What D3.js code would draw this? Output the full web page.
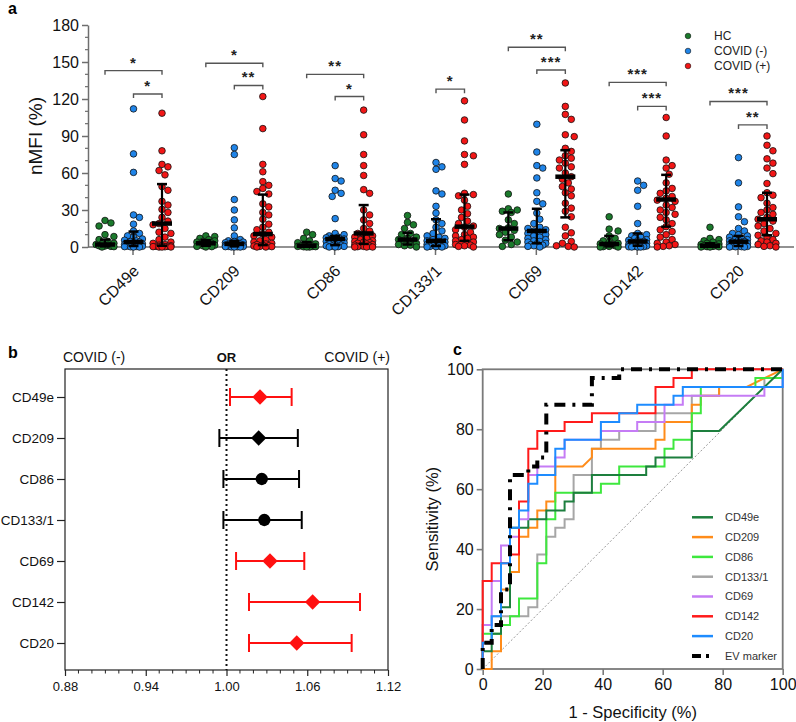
<!DOCTYPE html>
<html><head><meta charset="utf-8">
<script src="https://cdn.jsdelivr.net/npm/d3@7"></script>
<style>body{margin:0;background:#fff}svg{font-family:Arial,"Liberation Sans",sans-serif}</style>
</head><body><svg id="chart" width="796" height="722"></svg>
<script>
// ---------------- DATA ----------------
const markers = ["CD49e","CD209","CD86","CD133/1","CD69","CD142","CD20"];
const groups = ["HC","COVID (-)","COVID (+)"];
const yTicksA = [0,30,60,90,120,150,180];

const hcValues = [
  [21.5,19.5,17,10,8.5,6,4.5,3,2.5,2,1.5,1,0.8,0.5,0.3,0],
  [9,8.5,7,6,5,4.5,4,3,3,2.5,2,1.5,1,0.5,0.3,0],
  [12,10,7,5,3.5,2.5,2,1.5,1,1,0.5,0.5,0.3,0.2,0,0],
  [25.5,20,18,15,11,10,8,7,6,5,4,3,2,1.5,1,0],
  [43,31,30,29,28,22,19,15.5,15,13.5,12,10,8,5.5,4,2,0.5],
  [24.5,14.5,13,9,7,5,4,3,2.5,2,1.5,1,0.5,0.3,0,0],
  [16,7,6,5,4,3,2.5,2,1.5,1,1,0.5,0.3,0.2,0,0]
];
const negValues = [
  [112,75.5,60.5,26,24,18.5,13,11,9,8,6.5,5.5,5,4.5,4,3.5,3,2.5,2,2,1.5,1.2,1,0.8,0.6,0.5,0.3,0.2,0,0],
  [80.5,75,38.5,30,22,15.5,9,6,5,4.5,4,3.5,3,3,2.5,2,2,1.5,1.5,1,1,0.8,0.6,0.5,0.4,0.3,0.2,0.1,0,0],
  [66,55.5,53.5,46,43.5,41,23,11,10,9,8,7.5,7,6.5,6,5.5,5,4.5,4,3.5,3,2.5,2,1.5,1,0.8,0.5,0.3,0,0],
  [68.5,65,63,45.5,43,33,27.5,22,19,16,13,11,9,8,7,6,5,4.5,4,3.5,3,2.5,2,1.5,1,0.8,0.5,0.3,0,0],
  [99.5,77,66,64,56,44,37,35,27.5,22.5,19,16,15,14,13,12,11,10,9,8,7,6,5,4.5,4,3,2.5,2,1.5,1,0.5,0],
  [53.5,50,46,33,19,11,10,9,8,7,6,5.5,5,4.5,4,3.5,3,2.5,2,2,1.5,1,1,0.8,0.5,0.3,0.2,0,0,0],
  [72.5,52,32.5,24.5,20.5,15,13,11,10,9,8,7,6.5,6,5.5,5,4.5,4,3.5,3,2.5,2,1.5,1,0.8,0.5,0.3,0.2,0,0]
];
const posValues = [
  [108.5,78,67,65,62,58.5,49,46,37,34,30.5,28,24,21,19,18,15,12,11,8,6,4,3,2,1.5,1,1,0.5,0.5,0.3,0.2,0,0,0],
  [122,96,67,61,53,50,47.5,45,43,35,32.5,28,26,22.5,18.5,16,14,12,10.5,9,8,6,5,4,3,2.5,2,1.5,1,0.8,0.5,0.3,0,0],
  [111,91,75,66,58,46.5,43.5,30,26,22,19,15,13,11,10,9,8,7,6,5,4.5,4,3.5,3,2.5,2,1.5,1,0.8,0.5,0.3,0,0,0],
  [118.5,103,86,75,74,67,43.5,42.5,41.5,38,33,30,27,24,21,19,17,16,14,12,10,9,8,7,6,5,4,3,2.5,2,1.5,1,0.5,0],
  [133,114,107.5,103.5,91,89.5,80,77.5,74,72,70.5,68,65,64,60,57,55,52,49,47,44,41.5,35.5,31.5,29,24.5,16,11.5,9,4.5,3,1,0.5,0],
  [105,90,70.5,66,64,59,52,47.5,45.5,43.5,41,39.5,38,37,34,32,30,28,26.5,24,22,19,16.5,14,12.5,10,8,6,4,3,2,1,0.5,0],
  [90,82.5,78,71.5,68,64,59.5,51.5,44,42,40,35.5,32,30,28,26.5,24,22.5,21,19,17,15,13,11,9.5,8,6,5,4,3,2,1,0.5,0]
];
// median / IQR per marker: [HC, COVID(-), COVID(+)]
const medians = [[2,4,19],[3,2.5,10.5],[1,6.5,11],[6,5,16.5],[15,13,57],[2.4,4.5,38.5],[1,4.3,22.5]];
const q1s     = [[0.5,0.8,1],[1,0.5,1.5],[0.2,1.5,2.5],[2,0.8,5],[5.5,3,24],[0.5,1,16.5],[0.2,0.8,9.5]];
const q3s     = [[6,12.5,51],[5.5,5,42.5],[4,9,34],[11.5,22.5,42.5],[28,31,78.5],[9,11,58.5],[3,9,44]];
// significance brackets
const farLevels  = [143,149,140,null,162,133.5,118];
const farLabels  = ["*","*","**",null,"**","***","***"];
const nearLevels = [124,131,122,128,143.5,114,99];
const nearLabels = ["*","**","*","*","***","***","**"];

// panel b: odds ratios
const orMarkers = ["CD49e","CD209","CD86","CD133/1","CD69","CD142","CD20"];
const orValues = [1.0249,1.0239,1.0262,1.0281,1.0323,1.0640,1.0522];
const orLow    = [1.0026,0.9947,0.9977,0.9977,1.0071,1.0167,1.0167];
const orHigh   = [1.0484,1.0530,1.0539,1.0559,1.0578,1.0992,1.0930];
const orSignificant = [true,false,false,false,true,true,true];
const orShape = ["diamond","diamond","circle","circle","diamond","diamond","diamond"];
const orTicks = [0.88,0.94,1.00,1.06,1.12];

// panel c: ROC curves (1-specificity %, sensitivity %)
const rocNames = ["CD49e","CD209","CD86","CD133/1","CD69","CD142","CD20","EV marker"];
const rocCD49e = [[0,0],[0,5.9],[3,5.9],[3,11.8],[6.1,11.8],[6.1,20.6],[9.1,20.6],[9.1,47.1],[15.2,47.1],[15.2,50],[21.2,50],[21.2,52.9],[27.3,52.9],[27.3,55.9],[30.3,55.9],[30.3,58.8],[36.4,58.8],[36.4,64.7],[54.5,64.7],[54.5,67.6],[57.6,67.6],[57.6,70.6],[69.7,70.6],[69.7,79.4],[78.8,79.4],[100,100]];
const rocCD209 = [[0,0],[3,0],[3,5.9],[6.1,5.9],[6.1,26.5],[9.1,26.5],[9.1,32.4],[12.1,32.4],[12.1,44.1],[15.2,44.1],[15.2,47.1],[18.2,47.1],[18.2,52.9],[21.2,52.9],[21.2,55.9],[24.2,55.9],[24.2,67.6],[33.3,67.6],[36.4,70.6],[36.4,73.5],[57.6,73.5],[57.6,76.5],[60.6,76.5],[60.6,82.4],[69.7,82.4],[69.7,88.2],[72.7,88.2],[72.7,91.2],[78.8,91.2],[78.8,94.1],[88,94.1],[100,100]];
const rocCD86 = [[0,0],[0,11.8],[6.1,11.8],[6.1,14.7],[9.1,14.7],[9.1,17.6],[12.1,17.6],[12.1,23.5],[18.2,23.5],[18.2,35.3],[21.2,35.3],[21.2,50],[24.2,50],[24.2,58.8],[39.4,58.8],[39.4,61.8],[45.5,61.8],[45.5,67.6],[60.6,67.6],[60.6,73.5],[63.6,73.5],[63.6,76.5],[69.7,76.5],[69.7,85.3],[72.7,85.3],[72.7,94.1],[90.9,94.1],[90.9,97.1],[100,97.1],[100,100]];
const rocCD133 = [[0,0],[0,14.7],[3,14.7],[3,17.6],[15.2,17.6],[15.2,20.6],[18.2,20.6],[18.2,38.2],[21.2,38.2],[21.2,44.1],[24.2,44.1],[24.2,47.1],[27.3,47.1],[27.3,50],[30.3,50],[30.3,64.7],[36.4,64.7],[36.4,73.5],[39.4,73.5],[39.4,76.5],[45.5,76.5],[45.5,79.4],[57.6,79.4],[57.6,85.3],[69.7,85.3],[69.7,91.2],[78.8,91.2],[78.8,94.1],[93.9,94.1],[93.9,97.1],[100,97.1],[100,100]];
const rocCD69 = [[0,0],[0,14.7],[3,14.7],[3,29.4],[6.1,29.4],[6.1,41.2],[9.1,41.2],[9.1,44.1],[12.1,44.1],[12.1,50],[15.2,50],[15.2,64.7],[18.2,64.7],[18.2,67.6],[24.2,67.6],[24.2,70.6],[27.3,70.6],[27.3,76.5],[39.4,76.5],[39.4,79.4],[51.5,79.4],[51.5,82.4],[60.6,82.4],[60.6,88.2],[66.7,88.2],[66.7,91.2],[93.9,91.2],[93.9,94.1],[100,94.1],[100,100]];
const rocCD142 = [[0,0],[0,29.4],[3,29.4],[3,35.3],[9.1,35.3],[9.1,38.2],[12.1,38.2],[12.1,55.9],[15.2,55.9],[15.2,73.5],[18.2,73.5],[18.2,79.4],[27.3,79.4],[27.3,82.4],[36.4,82.4],[36.4,85.3],[57.6,85.3],[57.6,94.1],[63.6,94.1],[63.6,97.1],[69.7,97.1],[69.7,100],[100,100]];
const rocCD20 = [[0,0],[0,8.8],[3,8.8],[3,17.6],[6.1,17.6],[6.1,35.3],[9.1,35.3],[9.1,47.1],[12.1,47.1],[12.1,52.9],[15.2,52.9],[15.2,61.8],[18.2,61.8],[18.2,64.7],[24.2,64.7],[24.2,73.5],[27.3,73.5],[27.3,76.5],[39.4,76.5],[39.4,82.4],[45.5,82.4],[45.5,85.3],[51.5,85.3],[51.5,88.2],[63.6,88.2],[63.6,91.2],[66.7,91.2],[66.7,94.1],[100,94.1],[100,100]];
const rocEV = [[0,0],[0,8.8],[3,8.8],[3,14.7],[6.1,14.7],[6.1,26.5],[9.1,26.5],[9.1,64.7],[15.2,64.7],[15.2,67.6],[18.2,67.6],[18.2,70.6],[21.2,70.6],[21.2,88.2],[36.4,88.2],[36.4,97.1],[45.5,97.1],[45.5,100],[100,100]];
const rocTicks = [0,20,40,60,80,100];

// ---------------- DRAW ----------------
const svg = d3.select("#chart");
const FONT = 'Arial,"Liberation Sans",sans-serif';
const groupColors = ["#1b7a2c","#1f84e8","#f21616"];
const axisGray = "#6e6e6e";

// ===== Panel a =====
const xA = d3.scalePoint().domain(markers).range([133,738]);
const groupOffset = d3.scalePoint().domain(groups).range([-28,29]);
const yA = d3.scaleLinear().domain([0,180]).range([247,25]);
const gA = svg.append("g");

gA.append("text").attr("x",8).attr("y",14).attr("font-size",16).attr("font-weight","bold").text("a");

// y axis
const yAxisA = d3.axisLeft(yA).tickValues(yTicksA).tickSize(6).tickSizeOuter(0);
const yaG = gA.append("g").attr("transform","translate(88,0)").call(yAxisA);
yaG.selectAll("text").attr("font-size",16).attr("font-family",FONT).attr("fill","#111").attr("x",-9);
yaG.selectAll("line,path").attr("stroke",axisGray).attr("stroke-width",1.5);
const minorA = d3.range(0,181,10).filter(v=>v%30!==0);
gA.append("g").selectAll("line").data(minorA).join("line")
  .attr("x1",88).attr("x2",85).attr("y1",d=>yA(d)).attr("y2",d=>yA(d))
  .attr("stroke",axisGray).attr("stroke-width",1.2);
gA.append("text").attr("transform","translate(42,136) rotate(-90)").attr("text-anchor","middle")
  .attr("font-size",19).attr("fill","#111").text("nMFI (%)");

// x axis
gA.append("line").attr("x1",88).attr("x2",794).attr("y1",yA(0)).attr("y2",yA(0)).attr("stroke",axisGray).attr("stroke-width",1.6);
gA.append("g").selectAll("line").data(markers).join("line")
  .attr("x1",d=>xA(d)).attr("x2",d=>xA(d)).attr("y1",yA(0)).attr("y2",yA(0)+8)
  .attr("stroke",axisGray).attr("stroke-width",1.5);
gA.append("g").selectAll("text").data(markers).join("text")
  .attr("transform",d=>`translate(${xA(d)+7},${yA(0)+25}) rotate(-45)`)
  .attr("text-anchor","end").attr("font-size",16).attr("fill","#111").text(d=>d);

// beeswarm
function swarm(vals, cx, r, maxHalf){
  const pts = vals.map(v=>({v, y:yA(v)}));
  const placed=[];
  const cands=[0];
  for(let k=1;k*r*0.9<=maxHalf;k++){cands.push(k*r*0.9,-k*r*0.9);}
  pts.forEach(p=>{
    let chosen=null,best=-1,bestOff=0;
    for(const off of cands){
      let md=Infinity;
      for(const q of placed){const d=Math.hypot(cx+off-q.x,p.y-q.y); if(d<md) md=d;}
      if(md>=2*r-0.3){chosen=off;break;}
      if(md>best){best=md;bestOff=off;}
    }
    p.x = cx + (chosen!==null?chosen:bestOff);
    placed.push(p);
  });
  return pts;
}
const allSets = [hcValues,negValues,posValues];
const R = 3.3;
markers.forEach((m,i)=>{
  groups.forEach((g,j)=>{
    const cx = xA(m)+groupOffset(g);
    const pts = swarm(allSets[j][i], cx, R, 11);
    gA.append("g").selectAll("circle").data(pts).join("circle")
      .attr("cx",d=>d.x).attr("cy",d=>d.y).attr("r",R)
      .attr("fill",groupColors[j]).attr("stroke","#111").attr("stroke-width",0.8);
  });
});
// median & IQR
markers.forEach((m,i)=>{
  groups.forEach((g,j)=>{
    const cx = xA(m)+groupOffset(g);
    const eb = gA.append("g").attr("stroke","#000");
    eb.append("line").attr("x1",cx).attr("x2",cx).attr("y1",yA(q1s[i][j])).attr("y2",yA(q3s[i][j])).attr("stroke-width",2.2);
    [q1s[i][j],q3s[i][j]].forEach(v=>{
      eb.append("line").attr("x1",cx-5).attr("x2",cx+5).attr("y1",yA(v)).attr("y2",yA(v)).attr("stroke-width",2.5);
    });
    eb.append("line").attr("x1",cx-10).attr("x2",cx+10).attr("y1",yA(medians[i][j])).attr("y2",yA(medians[i][j])).attr("stroke-width",4.5);
  });
});
// brackets
function bracket(x1,x2,v,label){
  const y=yA(v);
  gA.append("path").attr("d",`M${x1},${y+4}V${y}H${x2}V${y+4}`).attr("fill","none").attr("stroke","#555").attr("stroke-width",1.4);
  gA.append("text").attr("x",(x1+x2)/2).attr("y",y-3).attr("text-anchor","middle").attr("font-size",15).attr("font-weight","bold")
    .attr("letter-spacing",1).attr("fill","#222").text(label);
}
markers.forEach((m,i)=>{
  if(farLevels[i]!==null) bracket(xA(m)+groupOffset("HC"),xA(m)+groupOffset("COVID (+)"),farLevels[i],farLabels[i]);
  bracket(xA(m)+groupOffset("COVID (-)"),xA(m)+groupOffset("COVID (+)"),nearLevels[i],nearLabels[i]);
});
// legend a
groups.forEach((g,j)=>{
  const y=36+j*15;
  gA.append("circle").attr("cx",688).attr("cy",y).attr("r",2.8).attr("fill",groupColors[j]).attr("stroke","#111").attr("stroke-width",0.6);
  gA.append("text").attr("x",714).attr("y",y).attr("dy","0.35em").attr("font-size",12).attr("fill","#222").text(g);
});

// ===== Panel b =====
const gB = svg.append("g");
const xB = d3.scaleLinear().domain([0.88,1.12]).range([65,388]);
const yB = d3.scalePoint().domain(orMarkers).range([397,643]);
gB.append("text").attr("x",8).attr("y",358).attr("font-size",16).attr("font-weight","bold").text("b");
gB.append("text").attr("x",63).attr("y",362).attr("font-size",14).attr("fill","#111").text("COVID (-)");
gB.append("text").attr("x",xB(1)).attr("y",362).attr("text-anchor","middle").attr("font-size",13).attr("font-weight","bold").attr("fill","#111").text("OR");
gB.append("text").attr("x",390).attr("y",362).attr("text-anchor","end").attr("font-size",14).attr("fill","#111").text("COVID (+)");
gB.append("rect").attr("x",65).attr("y",369).attr("width",323).attr("height",301).attr("fill","none").attr("stroke","#222").attr("stroke-width",1.2);
const xAxisB = d3.axisBottom(xB).tickValues(orTicks).tickFormat(d3.format(".2f")).tickSize(6).tickSizeOuter(0);
const xbG = gB.append("g").attr("transform","translate(0,670)").call(xAxisB);
xbG.select(".domain").remove();
xbG.selectAll("line").attr("stroke","#222").attr("stroke-width",1.2);
xbG.selectAll("text").attr("font-size",13).attr("font-family",FONT).attr("fill","#111").attr("y",12);
const minorB = d3.range(0,25).map(k=>0.88+k*0.01).filter((v,k)=>k%6!==0);
gB.append("g").selectAll("line").data(minorB).join("line")
  .attr("x1",d=>xB(d)).attr("x2",d=>xB(d)).attr("y1",670).attr("y2",673.5).attr("stroke","#222").attr("stroke-width",1);
const yAxisB = d3.axisLeft(yB).tickSize(8).tickSizeOuter(0);
const ybG = gB.append("g").attr("transform","translate(65,0)").call(yAxisB);
ybG.select(".domain").remove();
ybG.selectAll("line").attr("stroke","#222").attr("stroke-width",1.2);
ybG.selectAll("text").attr("font-size",13.5).attr("font-family",FONT).attr("fill","#111").attr("x",-11);
gB.append("line").attr("x1",xB(1)).attr("x2",xB(1)).attr("y1",369).attr("y2",670).attr("stroke","#111").attr("stroke-width",2).attr("stroke-dasharray","2,3");
orMarkers.forEach((m,i)=>{
  const col = orSignificant[i] ? "#ff1010" : "#000";
  const y = yB(m);
  const g = gB.append("g").attr("stroke",col).attr("stroke-width",2);
  g.append("line").attr("x1",xB(orLow[i])).attr("x2",xB(orHigh[i])).attr("y1",y).attr("y2",y);
  [orLow[i],orHigh[i]].forEach(v=>g.append("line").attr("x1",xB(v)).attr("x2",xB(v)).attr("y1",y-9).attr("y2",y+9));
  const sym = orShape[i]==="diamond" ? d3.symbol(d3.symbolDiamond2, 150) : d3.symbol(d3.symbolCircle, 120);
  gB.append("path").attr("d",sym()).attr("transform",`translate(${xB(orValues[i])},${y})`).attr("fill",col);
});

// ===== Panel c =====
const gC = svg.append("g");
const xC = d3.scaleLinear().domain([0,100]).range([482.7,782.7]);
const yC = d3.scaleLinear().domain([0,100]).range([669,369.3]);
gC.append("text").attr("x",453).attr("y",355).attr("font-size",16).attr("font-weight","bold").text("c");
gC.append("rect").attr("x",xC(0)).attr("y",yC(100)).attr("width",xC(100)-xC(0)).attr("height",yC(0)-yC(100))
  .attr("fill","none").attr("stroke","#7a7a7a").attr("stroke-width",1.8);
const xAxisC = d3.axisBottom(xC).tickValues(rocTicks).tickSize(6).tickSizeOuter(0);
const xcG = gC.append("g").attr("transform",`translate(0,${yC(0)})`).call(xAxisC);
xcG.select(".domain").remove();
xcG.selectAll("line").attr("stroke","#7a7a7a").attr("stroke-width",1.6);
xcG.selectAll("text").attr("font-size",16).attr("font-family",FONT).attr("fill","#111").attr("y",10);
const yAxisC = d3.axisLeft(yC).tickValues(rocTicks).tickSize(6).tickSizeOuter(0);
const ycG = gC.append("g").attr("transform",`translate(${xC(0)},0)`).call(yAxisC);
ycG.select(".domain").remove();
ycG.selectAll("line").attr("stroke","#7a7a7a").attr("stroke-width",1.6);
ycG.selectAll("text").attr("font-size",16).attr("font-family",FONT).attr("fill","#111").attr("x",-9);
gC.append("text").attr("transform",`translate(438,${(yC(0)+yC(100))/2}) rotate(-90)`).attr("text-anchor","middle")
  .attr("font-size",16.5).attr("fill","#111").text("Sensitivity (%)");
gC.append("text").attr("x",(xC(0)+xC(100))/2).attr("y",718).attr("text-anchor","middle")
  .attr("font-size",16.5).attr("fill","#111").text("1 - Specificity (%)");
// reference diagonal
gC.append("line").attr("x1",xC(0)).attr("y1",yC(0)).attr("x2",xC(100)).attr("y2",yC(100))
  .attr("stroke","#999").attr("stroke-width",1).attr("stroke-dasharray","2,2");
const rocData = [rocCD49e,rocCD209,rocCD86,rocCD133,rocCD69,rocCD142,rocCD20,rocEV];
const rocColors = ["#1d7f3e","#ff8c1a","#3ee83e","#a6a6a6","#c57cf5","#ff1a1a","#1e8cff","#000"];
const drawOrder = [3,1,2,0,4,5,6,7];
const line = d3.line().x(d=>xC(d[0])).y(d=>yC(d[1]));
drawOrder.forEach(k=>{
  const isEV = k===7;
  gC.append("path").attr("d",line(rocData[k])).attr("fill","none").attr("stroke",rocColors[k])
    .attr("stroke-width",isEV?4:2).attr("stroke-dasharray",isEV?"11,7,3,7":null);
});
// legend c
rocNames.forEach((n,k)=>{
  const y = 517.3 + k*19.8;
  const isEV = k===7;
  gC.append("line").attr("x1",692).attr("x2",713).attr("y1",y).attr("y2",y).attr("stroke",rocColors[k])
    .attr("stroke-width",isEV?4:2.5).attr("stroke-dasharray",isEV?"9,5,3,20":null);
  gC.append("text").attr("x",725).attr("y",y).attr("dy","0.35em").attr("font-size",11).attr("fill","#333").text(n);
});
</script></body></html>
